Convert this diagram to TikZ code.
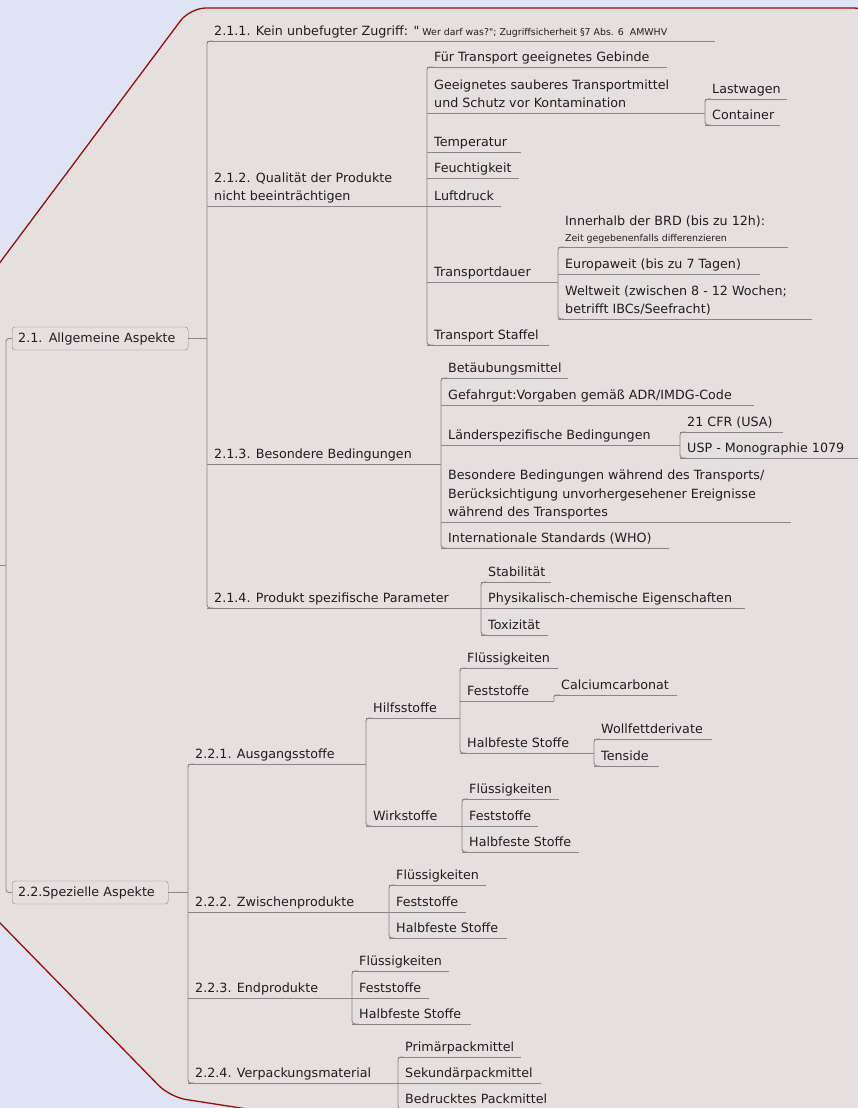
\documentclass[tikz,border=0pt]{standalone}
\usepackage{fontspec}
\usepackage{tikz}
\setmainfont{DejaVu Sans}[Ligatures=TeXOff]

\definecolor{bgblue}{RGB}{222,228,243}
\definecolor{mapfill}{RGB}{230,223,223}
\definecolor{mapborder}{RGB}{150,12,12}
\definecolor{linegray}{RGB}{135,135,135}
\definecolor{textgray}{RGB}{30,30,30}

\newcommand{\mapfs}{\fontsize{12.7pt}{18.5pt}\selectfont}
\newcommand{\notefs}{\fontsize{9.4pt}{12pt}\selectfont}

\tikzset{
	item/.style={anchor=south west, inner xsep=7pt, inner ysep=2pt, text depth=3pt, align=left, font=\mapfs, text=textgray},
	topic/.style={anchor=west, draw=linegray, fill=mapfill, rounded corners=3pt, inner xsep=6pt, inner ysep=0pt, minimum height=23pt, align=left, font=\mapfs, text=textgray},
	conn/.style={draw=linegray, line width=0.9pt},
}

\begin{document}
\begin{tikzpicture}[x=1pt, y=-1pt]
	
	\useasboundingbox (0,0) rectangle (858,1108);
	\clip (0,0) rectangle (858,1108);
	\fill[bgblue] (0,0) rectangle (858,1108);
	\filldraw[fill=mapfill, draw=mapborder, line width=1.3pt, rounded corners=16pt]
		(-40,882) -- (170,1097) -- (960,1220) -- (960,130) -- (870,8) -- (190,8) -- (-40,316) -- cycle;
	
	% main branches
	\node[topic, text width=164pt] (a21) at (12,338.5) {2.1. Allgemeine Aspekte};
	\node[topic, text width=144pt] (a22) at (12,892.5) {2.2.Spezielle Aspekte};
	
	% 2.1
	\node[item] (n211) at (207,41) {2.1.1. Kein unbefugter Zugriff: "{\notefs\ Wer darf was?"; Zugriffsicherheit §7 Abs. 6\ \ AMWHV}};
	\node[item] (n212) at (207,206) {2.1.2. Qualität der Produkte\\nicht beeinträchtigen};
	\node[item] (n213) at (207,464) {2.1.3. Besondere Bedingungen};
	\node[item] (n214) at (207,608) {2.1.4. Produkt spezifische Parameter};
	
	\node[item] (t1) at (427,67) {Für Transport geeignetes Gebinde};
	\node[item] (t2) at (427,113) {Geeignetes sauberes Transportmittel\\und Schutz vor Kontamination};
	\node[item] (t2a) at (705,99) {Lastwagen};
	\node[item] (t2b) at (705,125) {Container};
	\node[item] (t3) at (427,152) {Temperatur};
	\node[item] (t4) at (427,178) {Feuchtigkeit};
	\node[item] (t5) at (427,206) {Luftdruck};
	\node[item] (t6) at (427,282) {Transportdauer};
	\node[item] (t6a) at (558,247) {Innerhalb der BRD (bis zu 12h):\\[-2.5pt]{\notefs Zeit gegebenenfalls differenzieren}};
	\node[item] (t6b) at (558,274) {Europaweit (bis zu 7 Tagen)};
	\node[item] (t6c) at (558,319) {Weltweit (zwischen 8 - 12 Wochen;\\betrifft IBCs/Seefracht)};
	\node[item] (t7) at (427,345) {Transport Staffel};
	
	\node[item] (b1) at (441,378) {Betäubungsmittel};
	\node[item] (b2) at (441,405) {Gefahrgut:Vorgaben gemäß ADR/IMDG-Code};
	\node[item] (b3) at (441,445) {Länderspezifische Bedingungen};
	\node[item] (b3a) at (680,432) {21 CFR (USA)};
	\node[item] (b3b) at (680,458) {USP - Monographie 1079};
	\node[item] (b4) at (441,522) {Besondere Bedingungen während des Transports/\\Berücksichtigung unvorhergesehener Ereignisse\\während des Transportes};
	\node[item] (b5) at (441,548) {Internationale Standards (WHO)};
	
	\node[item] (p1) at (481,582) {Stabilität};
	\node[item] (p2) at (481,608) {Physikalisch-chemische Eigenschaften};
	\node[item] (p3) at (481,635) {Toxizität};
	
	% 2.2
	\node[item] (s1) at (188,764) {2.2.1. Ausgangsstoffe};
	\node[item] (s2) at (188,912) {2.2.2. Zwischenprodukte};
	\node[item] (s3) at (188,998) {2.2.3. Endprodukte};
	\node[item] (s4) at (188,1083) {2.2.4. Verpackungsmaterial};
	
	\node[item] (h) at (366,718) {Hilfsstoffe};
	\node[item] (h1) at (460,668) {Flüssigkeiten};
	\node[item] (h2) at (460,701) {Feststoffe};
	\node[item] (h2a) at (554,695) {Calciumcarbonat};
	\node[item] (h3) at (460,753) {Halbfeste Stoffe};
	\node[item] (h3a) at (594,739) {Wollfettderivate};
	\node[item] (h3b) at (594,766) {Tenside};
	\node[item] (w) at (366,826) {Wirkstoffe};
	\node[item] (w1) at (462,799) {Flüssigkeiten};
	\node[item] (w2) at (462,826) {Feststoffe};
	\node[item] (w3) at (462,852) {Halbfeste Stoffe};
	
	\node[item] (z1) at (389,885) {Flüssigkeiten};
	\node[item] (z2) at (389,912) {Feststoffe};
	\node[item] (z3) at (389,938) {Halbfeste Stoffe};
	
	\node[item] (e1) at (352,971) {Flüssigkeiten};
	\node[item] (e2) at (352,998) {Feststoffe};
	\node[item] (e3) at (352,1024) {Halbfeste Stoffe};
	
	\node[item] (v1) at (398,1057) {Primärpackmittel};
	\node[item] (v2) at (398,1083) {Sekundärpackmittel};
	\node[item] (v3) at (398,1109) {Bedrucktes Packmittel};
	
	% underlines
	\foreach \n/\e in {n211/715, n212/427, n213/441, n214/481, t1/667, t2/705, t2a/787, t2b/780, t3/521, t4/519, t5/501, t6/558, t6a/788, t6b/760, t6c/812, t7/549,
		b1/568, b2/754, b3/680, b3a/783, b3b/858, b4/791, b5/669, p1/551, p2/745, p3/548,
		s1/366, s2/389, s3/352, s4/398, h/460, h1/558, h2/554, h2a/677, h3/594, h3a/712, h3b/659, w/462, w1/559, w2/538, w3/579,
		z1/486, z2/466, z3/507, e1/449, e2/429, e3/471, v1/521, v2/541, v3/562}
		\draw[conn] (\n.south west) -- (\n.south west -| \e,0);
	
	% bars
	\foreach \a/\b in {n211/n214, t1/t7, t2a/t2b, t6a/t6c, b1/b5, b3a/b3b, p1/p3, s1/s4, h/w, h1/h3, h3a/h3b, w1/w3, z1/z3, e1/e3, v1/v3}
		\draw[conn, rounded corners=3pt] ([xshift=6pt]\a.south west) -- (\a.south west) -- (\b.south west) -- ([xshift=6pt]\b.south west);
	\draw[conn, rounded corners=2pt] ([xshift=6pt]h2a.south west) -- (h2a.south west) -- (h2a.south west |- h2.south);
	
	\draw[conn] (a21.east) -- (a21.east -| n211.south west);
	\draw[conn] (a22.east) -- (a22.east -| s1.south west);
	\draw[conn, rounded corners=3pt] (a21.west) -- ++(-6,0) |- (a22.west);
	\coordinate (root) at (0,565);
	\draw[conn] (root) -- ++(6,0);
	
\end{tikzpicture}
\end{document}
